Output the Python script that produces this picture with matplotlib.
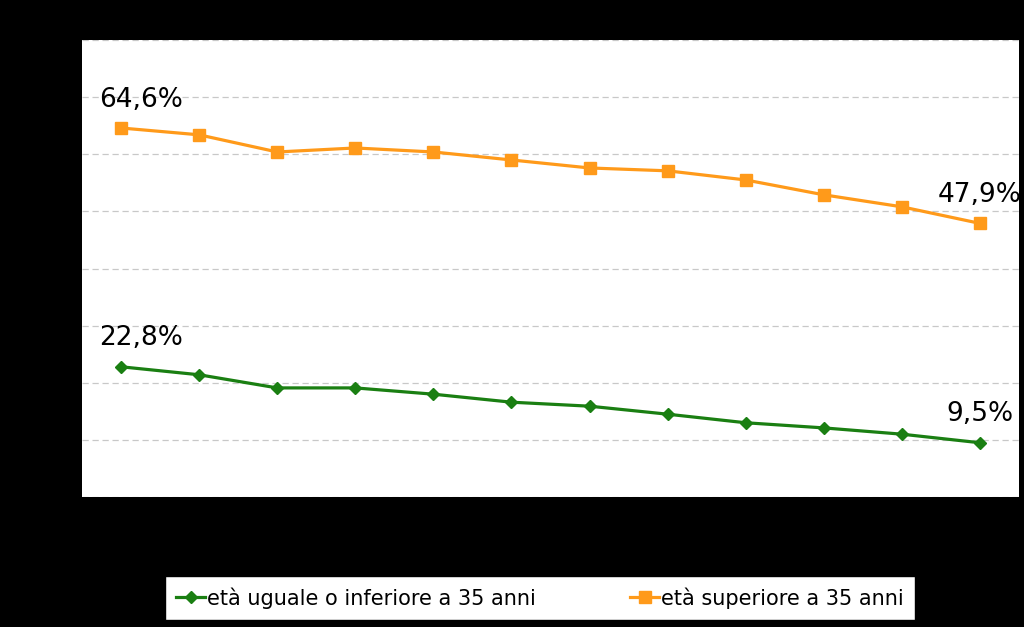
import matplotlib.pyplot as plt

# 12 periods (x labels not visible in the reference)
periods = list(range(1, 13))
under35 = [22.8, 21.4, 19.1, 19.1, 18.0, 16.6, 15.9, 14.5, 13.0, 12.1, 11.0, 9.5]
over35 = [64.6, 63.4, 60.4, 61.1, 60.4, 59.0, 57.6, 57.1, 55.5, 52.9, 50.8, 47.9]
label_under = 'età uguale o inferiore a 35 anni'
label_over = 'età superiore a 35 anni'

green = '#1a7f12'
orange = '#ff9a1a'

fig = plt.figure(figsize=(10.24, 6.27), dpi=100, facecolor='black')
ax = fig.add_axes([0.0801, 0.2073, 0.9150, 0.7289])
ax.set_facecolor('white')

ax.plot(periods, under35, color=green, lw=2.3, marker='D', ms=6, label=label_under)
ax.plot(periods, over35, color=orange, lw=2.3, marker='s', ms=8, label=label_over)

ax.set_xlim(0.5, 12.5)
ax.set_ylim(0, 80)
ax.set_yticks(range(0, 81, 10))
ax.grid(axis='y', color='#c8c8c8', linestyle=(0, (5, 3)), linewidth=0.9)
ax.set_axisbelow(True)
ax.tick_params(left=False, bottom=False, labelleft=False, labelbottom=False)
for s in ax.spines.values():
    s.set_visible(False)

def fmt(v):
    return f'{v:.1f}%'.replace('.', ',')

fs = 19
ax.annotate(fmt(over35[0]), (periods[0], over35[0]), xytext=(-16, 11),
            textcoords='offset points', ha='left', va='bottom', fontsize=fs)
ax.annotate(fmt(under35[0]), (periods[0], under35[0]), xytext=(-16, 11),
            textcoords='offset points', ha='left', va='bottom', fontsize=fs)
ax.annotate(fmt(over35[-1]), (periods[-1], over35[-1]), xytext=(0, 11),
            textcoords='offset points', ha='center', va='bottom', fontsize=fs)
ax.annotate(fmt(under35[-1]), (periods[-1], under35[-1]), xytext=(0, 11),
            textcoords='offset points', ha='center', va='bottom', fontsize=fs)

leg = fig.legend(loc='center', bbox_to_anchor=(540 / 1024, 1 - 598 / 627), ncol=2,
                 fontsize=15, frameon=True, fancybox=False, edgecolor='black',
                 facecolor='white', framealpha=1.0,
                 handlelength=1.4, handletextpad=0.1, columnspacing=4.5,
                 borderpad=0.55, borderaxespad=0)
leg.get_frame().set_linewidth(1.0)

fig.savefig('out.png', dpi=100, facecolor=fig.get_facecolor())
